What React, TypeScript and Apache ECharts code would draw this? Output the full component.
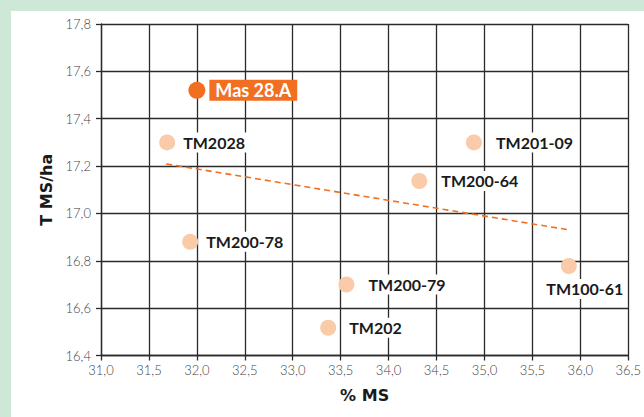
import React, { useEffect, useRef } from "react";
import * as echarts from "echarts";

const pointNames = ["Mas 28.A", "TM2028", "TM201-09", "TM200-64", "TM200-78", "TM100-61", "TM200-79", "TM202"];
const pctMS = [32.0, 31.69, 34.89, 34.32, 31.93, 35.88, 33.56, 33.37];
const tMSha = [17.52, 17.3, 17.3, 17.137, 16.88, 16.778, 16.7, 16.517];
const trendX = [31.68, 35.89];
const trendY = [17.209, 16.93];
const xTicks = { min: 31.0, max: 36.5, step: 0.5 };
const yTicks = { min: 16.4, max: 17.8, step: 0.2 };

const ORANGE = "#f26f21";
const PEACH = "#f9cba8";
const fmt = (v: number) => v.toFixed(1).replace(".", ",");

export default function App() {
  const ref = useRef<HTMLDivElement>(null);
  useEffect(() => {
    document.body.style.margin = "0";
    if (!ref.current) return;
    const chart = echarts.init(ref.current, null, { renderer: "svg" });
    const labelBase = {
      show: true,
      fontFamily: "Lato",
      fontWeight: 700,
      fontSize: 16,
      color: "#1a1a1a",
      backgroundColor: "#ffffff",
      padding: [2, 3],
    };
    const distances: Record<string, number> = {
      "TM2028": 5,
      "TM201-09": 11,
      "TM200-64": 11,
      "TM200-78": 5,
      "TM200-79": 11,
      "TM202": 10,
    };
    const scatterData = pointNames.map((name, i) => {
      if (name === "Mas 28.A") {
        return {
          name,
          value: [pctMS[i], tMSha[i]],
          symbolSize: 17,
          itemStyle: { color: ORANGE },
          label: {
            ...labelBase,
            fontSize: 18,
            color: "#ffffff",
            backgroundColor: ORANGE,
            padding: [2, 6, 1, 6],
            position: "right",
            distance: 4,
          },
        };
      }
      if (name === "TM100-61") {
        return {
          name,
          value: [pctMS[i], tMSha[i]],
          label: { ...labelBase, position: "bottom", distance: 5, offset: [16, 0] },
        };
      }
      return {
        name,
        value: [pctMS[i], tMSha[i]],
        label: { ...labelBase, position: "right", distance: distances[name] ?? 6 },
      };
    });
    const lineStyleGrid = { color: "#2b2b2b", width: 1.3 };
    chart.setOption({
      animation: false,
      grid: { left: 90, top: 13, right: 15, bottom: 61.5, containLabel: false },
      xAxis: {
        type: "value",
        min: xTicks.min,
        max: xTicks.max,
        interval: xTicks.step,
        name: "% MS",
        nameLocation: "middle",
        nameGap: 32,
        nameTextStyle: { fontFamily: "DejaVu Sans", fontWeight: "bold", fontSize: 16, color: "#1a1a1a" },
        axisLine: { show: true, lineStyle: lineStyleGrid },
        axisTick: { show: true, length: 5, lineStyle: lineStyleGrid },
        splitLine: { show: true, lineStyle: lineStyleGrid },
        axisLabel: { formatter: fmt, fontFamily: "Lato", fontWeight: 300, fontSize: 13, color: "#444", margin: 8 },
      },
      yAxis: {
        type: "value",
        min: yTicks.min,
        max: yTicks.max,
        interval: yTicks.step,
        name: "T MS/ha",
        nameLocation: "middle",
        nameGap: 42,
        nameRotate: 90,
        nameTextStyle: { fontFamily: "DejaVu Sans", fontWeight: "bold", fontSize: 16, color: "#1a1a1a" },
        axisLine: { show: true, lineStyle: lineStyleGrid },
        axisTick: { show: true, length: 5, lineStyle: lineStyleGrid },
        splitLine: { show: true, lineStyle: lineStyleGrid },
        axisLabel: { formatter: fmt, fontFamily: "Lato", fontWeight: 300, fontSize: 13, color: "#444", margin: 10 },
      },
      series: [
        {
          type: "line",
          data: trendX.map((x, i) => [x, trendY[i]]),
          symbol: "none",
          lineStyle: { color: ORANGE, width: 1.6, type: [6, 4] },
          z: 2,
          silent: true,
        },
        {
          type: "scatter",
          symbolSize: 16,
          itemStyle: { color: PEACH, opacity: 1 },
          data: scatterData,
          label: { formatter: "{b}" },
          z: 3,
        },
      ],
    });
    return () => chart.dispose();
  }, []);
  return (
    <div style={{ position: "relative", width: 644, height: 417, background: "#cde8d7", overflow: "hidden" }}>
      <div style={{ position: "absolute", left: 11, top: 11, width: 633, height: 406, background: "#ffffff" }}>
        <div ref={ref} style={{ width: 633, height: 406 }} />
      </div>
    </div>
  );
}
